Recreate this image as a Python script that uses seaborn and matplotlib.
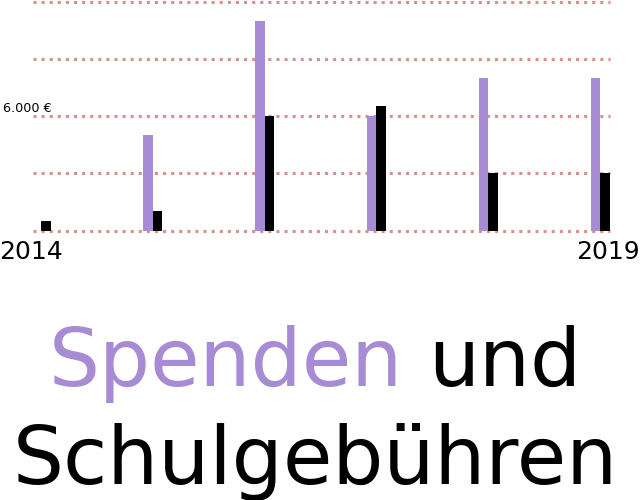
import matplotlib
matplotlib.use("Agg")
import matplotlib.pyplot as plt
import matplotlib.transforms as mtransforms
import seaborn as sns
import pandas as pd

years = ["2014", "2015", "2016", "2017", "2018", "2019"]
spenden = [0, 5000, 11000, 6000, 8000, 8000]
schulgebuehren = [500, 1000, 6000, 6500, 3000, 3000]
series_names = ["Spenden", "Schulgebühren"]
grid_values = [0, 3000, 6000, 9000, 12000]
y_label_value = 6000
y_label_text = "6.000 €"
xtick_labels = ["2014", "2019"]

purple = "#a78bd4"
black = "#000000"
grid_color = "#da9090"

df = pd.DataFrame({
    "year": years * 2,
    "series": [series_names[0]] * len(years) + [series_names[1]] * len(years),
    "value": spenden + schulgebuehren,
})

sns.set_theme(style="white")
plt.rcParams["font.family"] = ["DejaVu Sans"]

fig = plt.figure(figsize=(6.4, 5.0), dpi=100)
ax = fig.add_axes([33 / 640, 1 - 230.5 / 500, 577 / 640, 229.0 / 500])

sns.barplot(data=df, x="year", y="value", hue="series", order=years,
            hue_order=series_names, palette=[purple, black], width=0.17,
            gap=0, linewidth=0, saturation=1, legend=False, ax=ax, zorder=3)

ax.set_xlim(-0.0716, 5.0894)
ax.set_ylim(0, 12000)
ax.set_yticks(grid_values)
ax.set_yticklabels([])
ax.yaxis.grid(True, linestyle=":", color=grid_color, linewidth=2.2, zorder=0)
for gl in ax.get_ygridlines():
    gl.set_clip_on(False)
ax.xaxis.grid(False)
ax.set_axisbelow(True)
for s in ax.spines.values():
    s.set_visible(False)
ax.tick_params(axis="both", length=0)
ax.set_xlabel("")
ax.set_ylabel("")

ax.set_xticks([0, len(years) - 1])
ax.set_xticklabels(xtick_labels, fontsize=18, color="black")
ax.tick_params(axis="x", pad=7)
offsets = [-10, 8]
for lab, dx in zip(ax.get_xticklabels(), offsets):
    lab.set_transform(lab.get_transform() +
                      mtransforms.ScaledTranslation(dx / 100, 0, fig.dpi_scale_trans))

trans = mtransforms.blended_transform_factory(fig.transFigure, ax.transData)
trans = trans + mtransforms.ScaledTranslation(0, 4 / 100, fig.dpi_scale_trans)
ax.text(3 / 640, y_label_value, y_label_text, transform=trans, fontsize=9.2,
        ha="left", va="baseline", color="black")

# Title
tsize = 58
cx = 0.492
y1 = 0.228
y2 = 0.032
full = fig.text(cx, y1, "Spenden und", fontsize=tsize, ha="center",
                va="baseline", alpha=0)
fig.canvas.draw()
bb = full.get_window_extent()
fig.text(bb.x0 / fig.bbox.width, y1, "Spenden", fontsize=tsize, ha="left",
         va="baseline", color=purple)
fig.text(bb.x1 / fig.bbox.width, y1, "und", fontsize=tsize, ha="right",
         va="baseline", color=black)
fig.text(cx, y2, "Schulgebühren", fontsize=tsize, ha="center",
         va="baseline", color=black)

fig.savefig("out.png", dpi=100)
